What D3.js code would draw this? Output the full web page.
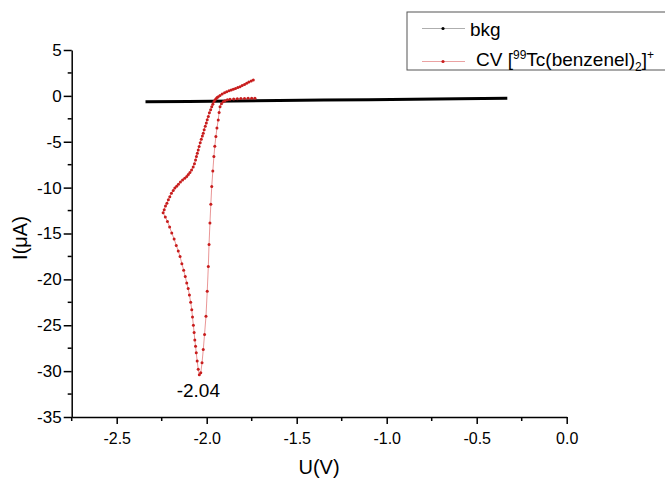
<!DOCTYPE html>
<html>
<head>
<meta charset="utf-8">
<script src="https://cdn.jsdelivr.net/npm/d3@7"></script>
<style>
  html, body { margin: 0; padding: 0; background: #fff; }
  svg { display: block; font-family: Arial, "Liberation Sans", Helvetica, sans-serif; }
</style>
</head>
<body>
<svg id="chart" width="665" height="479"></svg>
<script>
// ---- data ----
const xMajorTicks = [-2.5, -2.0, -1.5, -1.0, -0.5, 0.0];
const xMinorTicks = [-2.75, -2.25, -1.75, -1.25, -0.75, -0.25];
const yMajorTicks = [5, 0, -5, -10, -15, -20, -25, -30, -35];
const yMinorTicks = [2.5, -2.5, -7.5, -12.5, -17.5, -22.5, -27.5, -32.5];

const bkgU = [-2.34, -2.10, -1.85, -1.60, -1.35, -1.10, -0.85, -0.60, -0.33];
const bkgI = [-0.63, -0.60, -0.55, -0.51, -0.46, -0.42, -0.37, -0.32, -0.26];

const cvU = [
  -1.732, -1.75, -1.77, -1.79, -1.81, -1.83, -1.85, -1.871, -1.885, -1.898, -1.908, -1.918, -1.926, -1.931,
  -1.936, -1.943, -1.949, -1.955, -1.960, -1.966, -1.972, -1.977, -1.982, -1.987, -1.991, -1.997, -2.004,
  -2.012, -2.019, -2.026, -2.033, -2.041,
  -2.047, -2.053, -2.058, -2.062, -2.066, -2.070, -2.074, -2.079, -2.083, -2.089, -2.096, -2.103, -2.111,
  -2.119, -2.128, -2.138, -2.148, -2.158, -2.169, -2.181, -2.194, -2.206, -2.218, -2.230, -2.242,
  -2.236, -2.229, -2.221, -2.213, -2.205, -2.196, -2.186, -2.177, -2.167, -2.157, -2.146, -2.134, -2.122,
  -2.111, -2.102, -2.093, -2.084, -2.075, -2.068, -2.062, -2.057, -2.052, -2.047, -2.042, -2.036, -2.030,
  -2.024, -2.019, -2.014, -2.008, -2.002, -1.997, -1.991, -1.985, -1.978, -1.972, -1.966, -1.960, -1.954,
  -1.948, -1.942, -1.936, -1.926, -1.914, -1.901, -1.889, -1.876, -1.864, -1.852, -1.840, -1.827, -1.815,
  -1.803, -1.790, -1.778, -1.766, -1.753, -1.741
];
const cvI = [
  -0.26, -0.26, -0.27, -0.28, -0.29, -0.31, -0.33, -0.37, -0.43, -0.52, -0.63, -0.85, -1.18, -1.8,
  -2.62, -3.5, -4.44, -5.5, -6.62, -8.2, -9.88, -11.8, -13.86, -16.2, -18.59, -21.3, -24.03,
  -26.0, -27.65, -29.1, -30.19, -30.4,
  -29.8, -28.9, -28.0, -27.3, -26.6, -25.8, -25.0, -24.1, -23.3, -22.5, -21.7, -21.0, -20.4,
  -19.7, -19.0, -18.3, -17.5, -16.9, -16.3, -15.6, -14.95, -14.3, -13.7, -13.2, -12.75,
  -12.4, -12.0, -11.7, -11.33, -11.0, -10.6, -10.3, -10.05, -9.85, -9.62, -9.4, -9.17, -8.97,
  -8.79, -8.58, -8.35, -8.08, -7.75, -7.40, -7.0, -6.6, -6.25, -5.89, -5.52, -5.12, -4.72,
  -4.37, -4.07, -3.7, -3.3, -2.95, -2.6, -2.26, -1.85, -1.5, -1.18, -0.9, -0.65, -0.45,
  -0.3, -0.18, -0.09, 0.05, 0.2, 0.33, 0.46, 0.55, 0.63, 0.72, 0.8, 0.9, 1.00,
  1.12, 1.25, 1.38, 1.5, 1.62, 1.73
];

const peakLabel = "-2.04";
const peakU = -2.041;
const peakI = -30.4;

// ---- drawing ----
const svg = d3.select("#chart");
const x = d3.scaleLinear().domain([-2.75, 0]).range([71.7, 566.7]);
const y = d3.scaleLinear().domain([-35, 5]).range([417, 50]);

const cvColor = "#c81d1d";
const cvLine = "#e68a8a";

// series
const bkgData = bkgU.map((u, i) => [u, bkgI[i]]);
const cvData = cvU.map((u, i) => [u, cvI[i]]);
const line = d3.line().x(d => x(d[0])).y(d => y(d[1]));

svg.append("path").datum(bkgData).attr("d", line)
  .attr("fill", "none").attr("stroke", "#000").attr("stroke-width", 3);

svg.append("path").datum(cvData).attr("d", line)
  .attr("fill", "none").attr("stroke", cvLine).attr("stroke-width", 0.9);
svg.append("g").selectAll("circle").data(cvData).join("circle")
  .attr("cx", d => x(d[0])).attr("cy", d => y(d[1])).attr("r", 1.5)
  .attr("fill", cvColor);

// axes
const xAxis = svg.append("g").attr("transform", "translate(0,417)");
xAxis.call(d3.axisBottom(x).tickValues(xMajorTicks).tickSize(7).tickSizeOuter(0)
  .tickFormat(d3.format(".1f")));
xAxis.append("g").selectAll("line").data(xMinorTicks).join("line")
  .attr("x1", d => x(d)).attr("x2", d => x(d)).attr("y1", 0).attr("y2", 4)
  .attr("stroke", "#000").attr("stroke-width", 1.5);
xAxis.selectAll(".domain").attr("stroke-width", 1.5);
xAxis.selectAll(".tick line").attr("stroke-width", 1.5);
xAxis.selectAll(".tick text").attr("font-size", 16).attr("fill", "#000")
  .attr("font-family", "Arial, 'Liberation Sans', sans-serif").attr("dy", "1.05em")
  .text(d => d3.format(".1f")(d).replace("−", "-"));

const yAxis = svg.append("g").attr("transform", "translate(71.7,0)");
yAxis.call(d3.axisLeft(y).tickValues(yMajorTicks).tickSize(8).tickSizeOuter(0)
  .tickFormat(d => String(d)));
yAxis.append("g").selectAll("line").data(yMinorTicks).join("line")
  .attr("y1", d => y(d)).attr("y2", d => y(d)).attr("x1", 0).attr("x2", -4)
  .attr("stroke", "#000").attr("stroke-width", 1.5);
yAxis.selectAll(".domain").attr("stroke-width", 1.5);
yAxis.selectAll(".tick line").attr("stroke-width", 1.5);
yAxis.selectAll(".tick text").attr("font-size", 17).attr("fill", "#000")
  .attr("font-family", "Arial, 'Liberation Sans', sans-serif").attr("x", -10);

// axis titles
svg.append("text").attr("x", 319).attr("y", 474).attr("text-anchor", "middle")
  .attr("font-size", 20).text("U(V)");
svg.append("text").attr("transform", "translate(27,238) rotate(-90)")
  .attr("text-anchor", "middle").attr("font-size", 20).text("I(μA)");

// peak annotation
svg.append("text").attr("x", x(peakU) - 1).attr("y", y(peakI) + 22)
  .attr("text-anchor", "middle").attr("font-size", 19).text(peakLabel);

// legend
const lg = svg.append("g");
lg.append("rect").attr("x", 407).attr("y", 12).attr("width", 280).attr("height", 58)
  .attr("fill", "#fff").attr("stroke", "#555").attr("stroke-width", 1);
lg.append("line").attr("x1", 422).attr("x2", 465).attr("y1", 28.5).attr("y2", 28.5)
  .attr("stroke", "#999").attr("stroke-width", 0.8);
lg.append("circle").attr("cx", 443).attr("cy", 28.5).attr("r", 1.6).attr("fill", "#000");
lg.append("text").attr("x", 470).attr("y", 36).attr("font-size", 19).text("bkg");
lg.append("line").attr("x1", 422).attr("x2", 465).attr("y1", 61.5).attr("y2", 61.5)
  .attr("stroke", cvLine).attr("stroke-width", 0.8);
lg.append("circle").attr("cx", 443).attr("cy", 61.5).attr("r", 1.6).attr("fill", cvColor);
const t2 = lg.append("text").attr("x", 476).attr("y", 66).attr("font-size", 19);
t2.append("tspan").text("CV [");
t2.append("tspan").attr("font-size", 12).attr("dy", -7).text("99");
t2.append("tspan").attr("dy", 7).text("Tc(benzenel)");
t2.append("tspan").attr("font-size", 12).attr("dy", 5).text("2");
t2.append("tspan").attr("dy", -5).text("]");
t2.append("tspan").attr("font-size", 12).attr("dy", -7).text("+");
</script>
</body>
</html>
